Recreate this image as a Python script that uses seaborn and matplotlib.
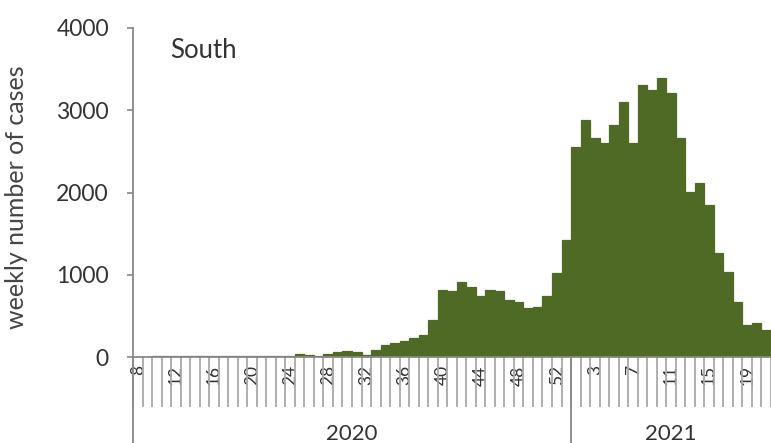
import numpy as np
import pandas as pd
import matplotlib
matplotlib.use("Agg")
import matplotlib.pyplot as plt
import seaborn as sns

# weekly cases, South region
weeks_2020 = list(range(8, 54))
cases_2020 = [0, 0, 15, 15, 15, 15, 15, 15, 15, 15,
              15, 15, 15, 15, 15, 15, 15, 35, 30, 15,
              40, 55, 70, 60, 30, 90, 146, 166, 199, 227,
              268, 446, 815, 805, 910, 855, 740, 820, 800, 690,
              670, 600, 610, 740, 1020, 1425]
weeks_2021 = list(range(1, 22))
cases_2021 = [2558, 2883, 2660, 2600, 2822, 3106, 2607, 3309, 3248, 3390,
              3208, 2660, 2011, 2113, 1849, 1269, 1038, 673, 389, 410, 328]
years = ["2020", "2021"]

df = pd.DataFrame({
    "period": [f"2020-{w}" for w in weeks_2020] + [f"2021-{w}" for w in weeks_2021],
    "week": weeks_2020 + weeks_2021,
    "cases": cases_2020 + cases_2021,
})
n = len(df)
n20 = len(weeks_2020)

sns.set_style("white")
plt.rcParams["font.family"] = ["Lato", "DejaVu Sans"]

fig, ax = plt.subplots(figsize=(7.71, 4.43), dpi=100)
ax.set_position([133 / 771, 86 / 443, 638 / 771, 329 / 443])

sns.barplot(data=df, x="period", y="cases", color="#4f6a24", saturation=1,
            width=1.0, edgecolor="#4f6a24", linewidth=0.9, ax=ax)

ax.set_xlim(-0.5, n - 0.5)
ax.set_ylim(0, 4000)
ax.set_yticks(range(0, 4001, 1000))
ax.tick_params(axis="y", length=4.3, width=1.2, color="#888888", pad=13,
               labelsize=16.5, labelcolor="#333333", left=True)

# week labels every 4th week, separators between every week
ax.set_xticks(range(0, n, 4))
ax.set_xticklabels([str(w) for w in df["week"][::4]], rotation=90)
ax.set_xticks(np.arange(-0.5, n, 1), minor=True)
ax.tick_params(axis="x", which="major", length=0, pad=6, labelsize=12.5,
               labelcolor="#333333")
ax.tick_params(axis="x", which="minor", length=36, width=1.3, color="#a8a8a8",
               bottom=True)

sns.despine(ax=ax)
for s in ["left", "bottom"]:
    ax.spines[s].set_color("#888888")
    ax.spines[s].set_linewidth(1.3)

ax.set_xlabel("")
ax.set_ylabel("weekly number of cases", fontsize=18, color="#444444")
ax.yaxis.set_label_coords(-0.165, 0.486)

# year level of the axis
trans = ax.get_xaxis_transform()
for xpos in [-0.5, n20 - 0.5]:
    ax.plot([xpos, xpos], [0, -0.3], transform=trans, color="#888888",
            lw=1.3, clip_on=False)
ax.text((n20 - 1) / 2, -0.205, years[0], transform=trans, ha="center",
        va="top", fontsize=16, color="#333333")
ax.text(n20 - 0.5 + (n - n20) / 2, -0.205, years[1], transform=trans,
        ha="center", va="top", fontsize=16, color="#333333")

ax.text(0.058, 0.933, "South", transform=ax.transAxes, ha="left",
        va="center", fontsize=18.5, color="#333333")

fig.savefig("out.png", dpi=100)
